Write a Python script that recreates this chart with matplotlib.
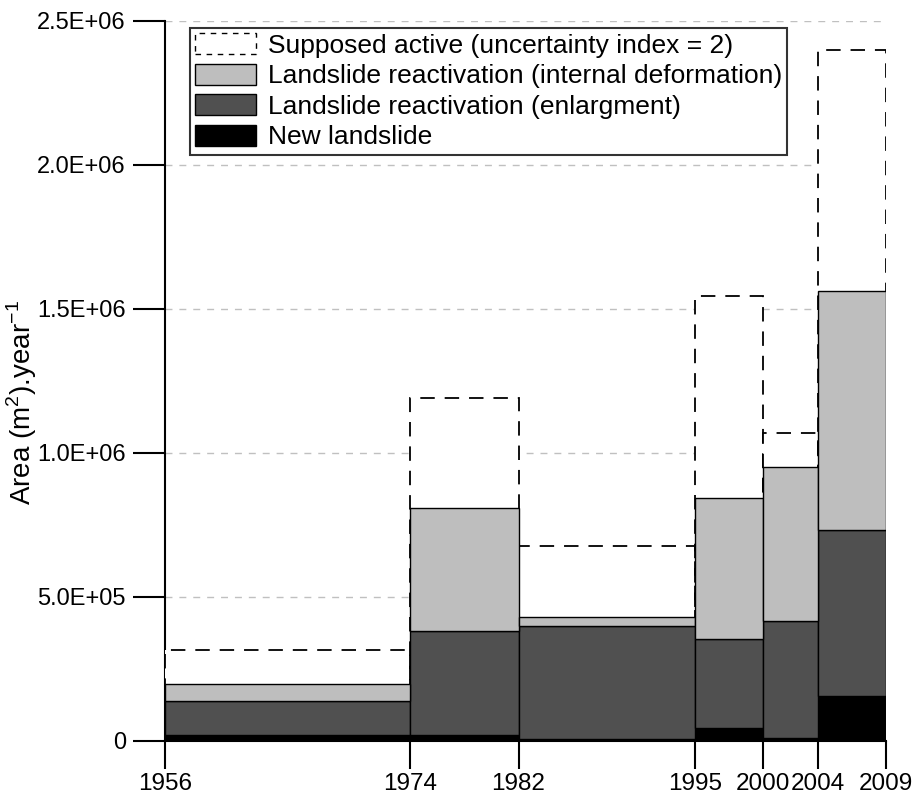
import matplotlib.pyplot as plt
from matplotlib import font_manager
from matplotlib.patches import Patch

# Period bounds (years) and annual areas (m2/year)
years = [1956, 1974, 1982, 1995, 2000, 2004, 2009]
new_landslide = [0.020e6, 0.020e6, 0.007e6, 0.045e6, 0.010e6, 0.156e6]
enlargement = [0.119e6, 0.362e6, 0.393e6, 0.309e6, 0.407e6, 0.577e6]
internal_def = [0.059e6, 0.427e6, 0.030e6, 0.490e6, 0.534e6, 0.830e6]
supposed_total = [0.316e6, 1.19e6, 0.677e6, 1.545e6, 1.07e6, 2.40e6]

yticks = [0, 0.5e6, 1.0e6, 1.5e6, 2.0e6, 2.5e6]
ytick_labels = ["0", "5.0E+05", "1.0E+06", "1.5E+06", "2.0E+06", "2.5E+06"]

names = {f.name for f in font_manager.fontManager.ttflist}
narrow = "Liberation Sans Narrow" if "Liberation Sans Narrow" in names else "Liberation Sans"
plt.rcParams["font.family"] = [narrow, "DejaVu Sans"]
plt.rcParams["mathtext.fontset"] = "custom"
plt.rcParams["mathtext.rm"] = narrow

fig = plt.figure(figsize=(9.16, 8), dpi=100)
ax = fig.add_axes([0.18, 0.074, 0.787, 0.9])

left = years[:-1]
widths = [b - a for a, b in zip(years[:-1], years[1:])]

# supposed active: white box with dashed outline
ax.bar(left, supposed_total, width=widths, align="edge", facecolor="white",
       edgecolor="black", linestyle=(0, (8, 5.5)), linewidth=1.3, zorder=3)

bottom = [0] * len(left)
for vals, col in [(new_landslide, "black"), (enlargement, "#505050"),
                  (internal_def, "#bebebe")]:
    ax.bar(left, vals, width=widths, bottom=bottom, align="edge",
           facecolor=col, edgecolor="black", linewidth=1.0, zorder=4)
    bottom = [b + v for b, v in zip(bottom, vals)]

ax.set_xlim(years[0], years[-1])
ax.set_ylim(0, 2.5e6)
ax.set_xticks(years)
ax.set_xticklabels([str(y) for y in years], fontsize=17.5)
ax.set_yticks(yticks)
ax.set_yticklabels(ytick_labels, fontsize=17, family="Liberation Sans")
ax.tick_params(axis="y", direction="out", length=23, width=1.5, pad=5)
ax.tick_params(axis="x", direction="out", length=20, width=1.5, pad=3)

for y in yticks[1:]:
    ax.axhline(y, color="#c0c0c0", linestyle=(0, (5, 5)), linewidth=1.0, zorder=1)

for s in ["top", "right"]:
    ax.spines[s].set_visible(False)
ax.spines["left"].set_linewidth(1.5)
ax.spines["bottom"].set_linewidth(1.5)
ax.spines["left"].set_zorder(2)

ax.set_ylabel("Area (m$^2$).year$^{-1}$", fontsize=20)
ax.yaxis.set_label_coords(-0.175, 0.47)

handles = [
    Patch(facecolor="white", edgecolor="black", linestyle=(0, (4, 4)), linewidth=1.0),
    Patch(facecolor="#bebebe", edgecolor="black", linewidth=1.0),
    Patch(facecolor="#505050", edgecolor="black", linewidth=1.0),
    Patch(facecolor="black", edgecolor="black", linewidth=1.0),
]
labels = ["Supposed active (uncertainty index = 2)",
          "Landslide reactivation (internal deformation)",
          "Landslide reactivation (enlargment)",
          "New landslide"]
leg = ax.legend(handles, labels, loc="upper left", bbox_to_anchor=(0.035, 0.99),
                fontsize=19, frameon=True, fancybox=False, handlelength=2.3,
                handleheight=0.85, labelspacing=0.22, handletextpad=0.45,
                borderpad=0.2, borderaxespad=0)
leg.get_frame().set_edgecolor("black")
leg.get_frame().set_linewidth(1.5)
leg.set_zorder(6)

fig.savefig("out.png", dpi=100)
